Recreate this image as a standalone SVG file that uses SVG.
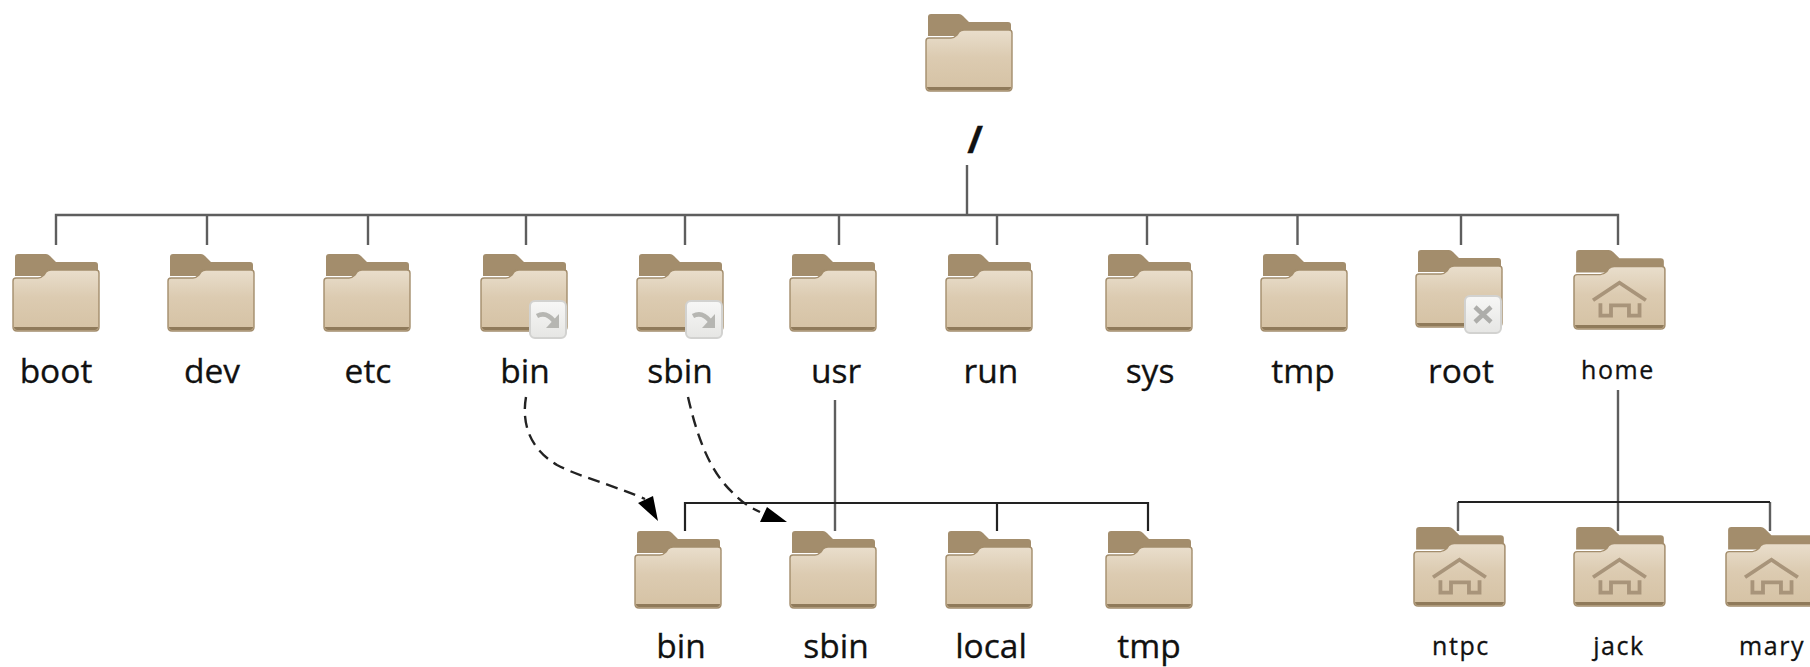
<svg xmlns="http://www.w3.org/2000/svg" xmlns:xlink="http://www.w3.org/1999/xlink" width="1810" height="667" viewBox="0 0 1810 667">
<style>
text{font-family:"Open Sans","Liberation Sans",sans-serif;fill:#111;text-anchor:middle;stroke:#111;stroke-width:.3px}
.l{font-size:33.500px}
.s{font-size:25px;letter-spacing:1.600px}
.g{stroke:#5e5e5e;stroke-width:2.400;fill:none}
.k{stroke:#222;stroke-width:2.200;fill:none}
.d{stroke:#222;stroke-width:2.400;fill:none;stroke-dasharray:12 7}
</style>
<defs>
<linearGradient id="fg" x1="0" y1="0" x2="0" y2="1">
<stop offset="0" stop-color="#e9decc"/><stop offset="0.45" stop-color="#dccbb1"/><stop offset="1" stop-color="#d5c2a4"/>
</linearGradient>
<linearGradient id="bg" x1="0" y1="0" x2="0" y2="1">
<stop offset="0" stop-color="#f7f7f6"/><stop offset="1" stop-color="#e6e6e4"/>
</linearGradient>
<filter id="soft" x="-10%" y="-10%" width="120%" height="120%"><feGaussianBlur stdDeviation="0.6"/></filter>
<g id="folder" filter="url(#soft)">
<path d="M2 28V3Q2 0 5 0H33Q35 0 37 2L43 8H82Q85 8 85 11V22H2Z" fill="#a38d6c"/>
<path d="M0 27Q0 24 3 24H25Q28 24 31 21L33 18Q35 16 38 16H83Q86 16 86 19V73Q86 77 82 77H4Q0 77 0 73Z" fill="url(#fg)" stroke="#a38d6c" stroke-width="1.400"/>
<path d="M1 73Q1 76 4 76H82Q85 76 85 73Z" fill="#8f7a5a"/>
</g>
<g id="house" fill="none" stroke="#a8947a" stroke-width="3.600">
<path d="M18 49L43 32L68 49"/>
<path d="M25 52V64H35V54H52V64H62V52"/>
</g>
<g id="badge">
<rect x="0" y="0" width="36" height="37" rx="5" fill="url(#bg)" stroke="#d2d2d0" stroke-width="2"/>
</g>
</defs>
<g id="connectors">
<path class="g" d="M967 165V215M56 245V215H1618V245M207 215V245M368 215V245M526 215V245M685 215V245M839 215V245M997 215V245M1147 215V245M1297.500 215V245M1461 215V245"/>
<path class="g" d="M835 400V531M1618 390V531M1458 531V502M1770 531V502"/>
<path class="k" d="M685 531V503H1148V531M997 503V531M1458 502H1770"/>
<path class="d" d="M526 397C522 420 527 447 557 465C580 477 610 484 645 499"/>
<path class="d" d="M688 397C696 432 708 470 733 493C741 501 747 506 760 512"/>
<path d="M658 521L638 503L653 496Z M787 522L767 507L760 522Z" fill="#000"/>
</g>
<g id="root-folder"><use href="#folder" transform="translate(926 14)"/><text x="975" y="153" style="font-size:38px;font-weight:700">/</text></g>
<g id="boot"><use href="#folder" transform="translate(13 254)"/><text class="l" x="56" y="383">boot</text></g>
<g id="dev"><use href="#folder" transform="translate(168 254)"/><text class="l" x="212" y="383">dev</text></g>
<g id="etc"><use href="#folder" transform="translate(324 254)"/><text class="l" x="368" y="383">etc</text></g>
<g id="bin"><use href="#folder" transform="translate(481 254)"/><g transform="translate(530 301)"><use href="#badge"/><path d="M7 15Q16 10 24 20" fill="none" stroke="#b6b6b2" stroke-width="4.500"/><path d="M29 13V27H16Z" fill="#b6b6b2"/></g><text class="l" x="525" y="383">bin</text></g>
<g id="sbin"><use href="#folder" transform="translate(637 254)"/><g transform="translate(686 301)"><use href="#badge"/><path d="M7 15Q16 10 24 20" fill="none" stroke="#b6b6b2" stroke-width="4.500"/><path d="M29 13V27H16Z" fill="#b6b6b2"/></g><text class="l" x="680" y="383">sbin</text></g>
<g id="usr"><use href="#folder" transform="translate(790 254)"/><text class="l" x="836" y="383">usr</text></g>
<g id="run"><use href="#folder" transform="translate(946 254)"/><text class="l" x="991" y="383">run</text></g>
<g id="sys"><use href="#folder" transform="translate(1106 254)"/><text class="l" x="1150" y="383">sys</text></g>
<g id="tmp"><use href="#folder" transform="translate(1261 254)"/><text class="l" x="1303" y="383">tmp</text></g>
<g id="root"><use href="#folder" transform="translate(1416 250)"/><g transform="translate(1465 296)"><use href="#badge"/><path d="M10 11L26 26M26 11L10 26" stroke="#adadaa" stroke-width="4.500" fill="none"/></g><text class="l" x="1461" y="383">root</text></g>
<g id="home"><g transform="translate(1574 250) scale(1.057 1.026)"><use href="#folder"/><use href="#house"/></g><text class="s" x="1618" y="379">home</text></g>
<g id="usr-bin"><use href="#folder" transform="translate(635 531)"/><text class="l" x="681" y="658">bin</text></g>
<g id="usr-sbin"><use href="#folder" transform="translate(790 531)"/><text class="l" x="836" y="658">sbin</text></g>
<g id="usr-local"><use href="#folder" transform="translate(946 531)"/><text class="l" x="991" y="658">local</text></g>
<g id="usr-tmp"><use href="#folder" transform="translate(1106 531)"/><text class="l" x="1149" y="658">tmp</text></g>
<g id="ntpc"><g transform="translate(1414 527) scale(1.057 1.026)"><use href="#folder"/><use href="#house"/></g><text class="s" x="1461" y="655">ntpc</text></g>
<g id="jack"><g transform="translate(1574 527) scale(1.057 1.026)"><use href="#folder"/><use href="#house"/></g><text class="s" x="1619" y="655">jack</text></g>
<g id="mary"><g transform="translate(1726 527) scale(1.057 1.026)"><use href="#folder"/><use href="#house"/></g><text class="s" x="1772" y="655">mary</text></g>
</svg>
